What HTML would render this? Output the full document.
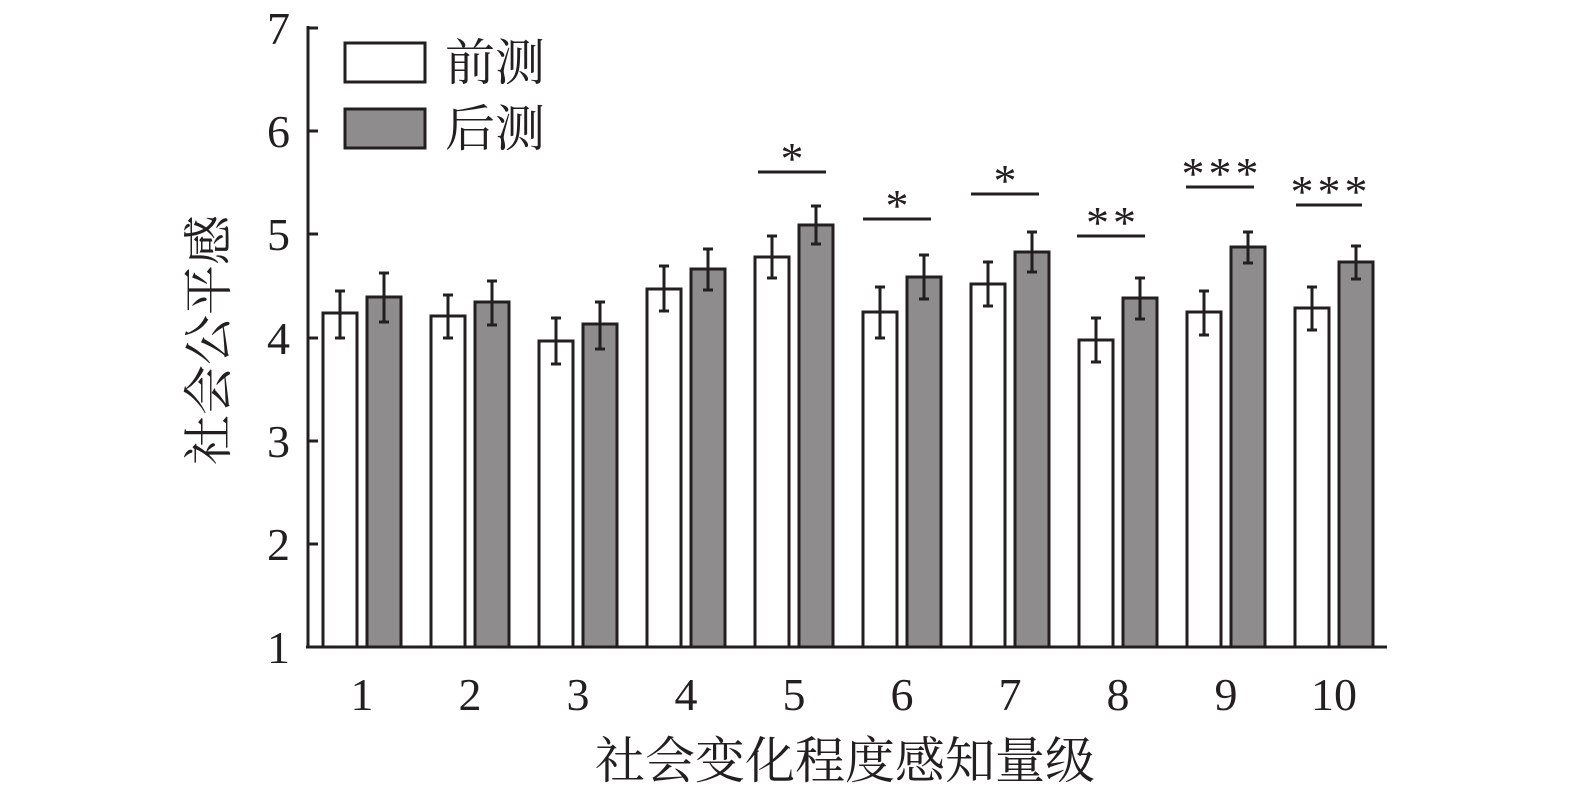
<!DOCTYPE html>
<html><head><meta charset="utf-8"><style>body{margin:0;background:#fff}</style></head><body>
<svg width="1575" height="795" xmlns="http://www.w3.org/2000/svg" font-family="Liberation Serif, Noto Serif CJK SC, serif">
<rect width="1575" height="795" fill="#fff"/>
<g stroke="#231f20" stroke-width="3" fill="none">
<line x1="308" y1="26" x2="308" y2="648"/>
<line x1="306" y1="647" x2="1387" y2="647"/>
<line x1="308" y1="28" x2="318" y2="28"/>
<line x1="308" y1="131" x2="318" y2="131"/>
<line x1="308" y1="234" x2="318" y2="234"/>
<line x1="308" y1="338" x2="318" y2="338"/>
<line x1="308" y1="441" x2="318" y2="441"/>
<line x1="308" y1="544" x2="318" y2="544"/>
</g>
<g font-size="46" fill="#231f20" text-anchor="end">
<text x="290" y="44">7</text><text x="290" y="147">6</text><text x="290" y="250">5</text>
<text x="290" y="354">4</text><text x="290" y="457">3</text><text x="290" y="560">2</text><text x="290" y="663">1</text>
</g>
<g id="bars" stroke="#231f20" stroke-width="3"></g>
<g font-size="46" fill="#231f20" text-anchor="middle" id="xl"></g>
<g font-size="46" fill="#231f20" text-anchor="middle" id="sig"></g>
<rect x="345" y="43" width="80" height="39" fill="#fff" stroke="#231f20" stroke-width="3"/>
<rect x="345" y="109" width="80" height="39" fill="#8e8c8d" stroke="#231f20" stroke-width="3"/>
<text x="445" y="80" font-size="50" fill="#231f20">前测</text>
<text x="445" y="146" font-size="50" fill="#231f20">后测</text>
<text x="845" y="778" font-size="50" fill="#231f20" text-anchor="middle">社会变化程度感知量级</text>
<text transform="translate(226,340) rotate(-90)" font-size="50" fill="#231f20" text-anchor="middle">社会公平感</text>
</svg>
<script>
var d=[[313,291,338,297,273,322],[316,295,338,302,281,325],[341,318,364,324,302,349],[289,266,311,269,249,290],[257,236,278,225,206,244],[312,287,338,277,255,299],[284,262,306,252,232,272],[340,318,362,298,278,319],[312,291,335,247,232,263],[308,287,330,262,246,279]];
var ns="http://www.w3.org/2000/svg",b=document.getElementById('bars'),xl=document.getElementById('xl'),sg=document.getElementById('sig');
function el(p,t,a){var e=document.createElementNS(ns,t);for(var k in a)e.setAttribute(k,a[k]);p.appendChild(e);return e;}
d.forEach(function(v,i){var x=323+i*108;
el(b,'rect',{x:x,y:v[0],width:34,height:647-v[0],fill:'#fff'});
el(b,'rect',{x:x+44,y:v[3],width:34,height:647-v[3],fill:'#8e8c8d'});
[[x+17,v[1],v[2]],[x+61,v[4],v[5]]].forEach(function(e){
el(b,'line',{x1:e[0],y1:e[1],x2:e[0],y2:e[2]});
el(b,'line',{x1:e[0]-5,y1:e[1],x2:e[0]+5,y2:e[1]});
el(b,'line',{x1:e[0]-5,y1:e[2],x2:e[0]+5,y2:e[2]});});
var t=el(xl,'text',{x:x+39,y:710});t.textContent=i+1;});
[[758,826,172,'*'],[863,931,219,'*'],[971,1039,194,'*'],[1077,1145,236,'**'],[1186,1254,187,'***'],[1296,1362,205,'***']].forEach(function(s){
el(b,'line',{x1:s[0],y1:s[2],x2:s[1],y2:s[2]});
var t=el(sg,'text',{x:(s[0]+s[1])/2+2,y:s[2]+2,'letter-spacing':'4'});t.textContent=s[3];});
</script>
</body></html>
